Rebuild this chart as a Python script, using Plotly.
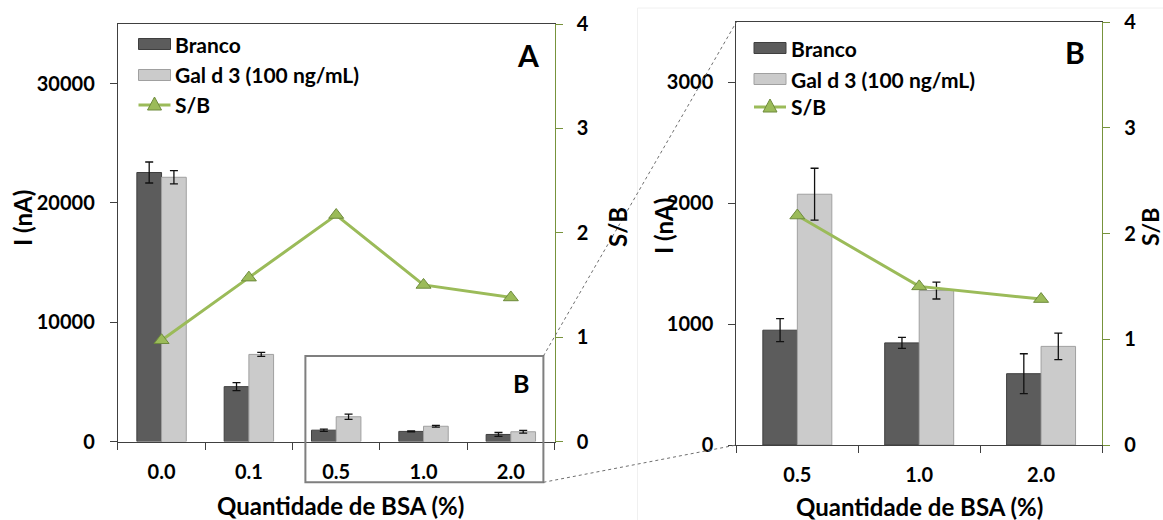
import plotly.graph_objects as go

# BSA blocking study: blank vs. Gal d 3 current, and signal-to-blank ratio
categories = ["0.0", "0.1", "0.5", "1.0", "2.0"]
branco = [22550, 4600, 950, 845, 590]
branco_err = [880, 330, 95, 45, 165]
gal_d3 = [22150, 7300, 2075, 1278, 816]
gal_d3_err = [550, 170, 215, 70, 110]
s_b = [0.97, 1.57, 2.17, 1.50, 1.38]

# the zoomed panel shows the last three concentrations
zoom_idx = [2, 3, 4]

W, H = 1163, 520
FONT = "Lato"
DARK = "#5C5C5C"
DARK_EDGE = "#3F3F3F"
LIGHT = "#CBCBCB"
LIGHT_EDGE = "#A0A0A0"
GREEN = "#9BBB59"
GREEN_EDGE = "#6E8B3D"
AXIS_GREEN = "#77933C"
AXIS = "#404040"


def px(x):
    return x / W


def py(y):
    return 1 - y / H


def bar_traces(cats, b, be, g, ge, xa, ya):
    return [
        go.Bar(x=cats, y=b, name="Branco", xaxis=xa, yaxis=ya,
               marker=dict(color=DARK, line=dict(color=DARK_EDGE, width=1)),
               error_y=dict(type="data", array=be, color="#111111",
                            thickness=1.3, width=4),
               showlegend=False),
        go.Bar(x=cats, y=g, name="Gal d 3 (100 ng/mL)", xaxis=xa, yaxis=ya,
               marker=dict(color=LIGHT, line=dict(color=LIGHT_EDGE, width=1)),
               error_y=dict(type="data", array=ge, color="#111111",
                            thickness=1.3, width=4),
               showlegend=False),
    ]


def ratio_trace(cats, vals, xa, ya):
    return go.Scatter(x=cats, y=vals, name="S/B", xaxis=xa, yaxis=ya,
                      mode="lines+markers",
                      line=dict(color=GREEN, width=3),
                      marker=dict(symbol="triangle-up", size=13, color=GREEN,
                                  line=dict(color=GREEN_EDGE, width=1)),
                      showlegend=False)


zc = [categories[i] for i in zoom_idx]
traces = []
traces += bar_traces(categories, branco, branco_err, gal_d3, gal_d3_err, "x", "y")
traces.append(ratio_trace(categories, s_b, "x", "y2"))
traces += bar_traces(zc, [branco[i] for i in zoom_idx], [branco_err[i] for i in zoom_idx],
                     [gal_d3[i] for i in zoom_idx], [gal_d3_err[i] for i in zoom_idx],
                     "x2", "y3")
traces.append(ratio_trace(zc, [s_b[i] for i in zoom_idx], "x2", "y4"))

fig = go.Figure(traces)

tick_font = dict(family=FONT, size=20, color="black", weight="bold")

xcommon = dict(type="category", showline=True, linecolor=AXIS, linewidth=1.3,
               mirror=True, ticks="outside", tickson="boundaries", ticklen=7,
               tickcolor=AXIS, showgrid=False, zeroline=False, automargin=False,
               tickfont=tick_font, ticklabelstandoff=12, fixedrange=True)
yleft = dict(showline=True, linecolor=AXIS, linewidth=1.3, ticks="outside",
             ticklen=7, tickcolor=AXIS, showgrid=False, zeroline=False,
             automargin=False, tickformat="d",
             tickfont=tick_font, ticklabelstandoff=11)
yright = dict(showline=True, linecolor=AXIS_GREEN, linewidth=1.3, ticks="outside",
              ticklen=7, tickcolor=AXIS_GREEN, showgrid=False, zeroline=False,
              automargin=False, tickformat="d",
              tickfont=tick_font, ticklabelstandoff=10, range=[0, 4], dtick=1,
              side="right")

fig.update_layout(
    width=W, height=H,
    margin=dict(l=0, r=0, t=0, b=0),
    paper_bgcolor="white", plot_bgcolor="white",
    font=dict(family=FONT, color="black", weight="bold"),
    barmode="group", bargap=0.434, bargroupgap=0,
    xaxis=dict(xcommon, domain=[px(117.9), px(554.5)], anchor="y"),
    yaxis=dict(yleft, domain=[py(441.5), py(24)], range=[0, 35000], dtick=10000,
               anchor="x"),
    yaxis2=dict(yright, overlaying="y", anchor="x"),
    xaxis2=dict(xcommon, domain=[px(736.4), px(1102)], anchor="y3"),
    yaxis3=dict(yleft, domain=[py(445), py(22)], range=[0, 3500], dtick=1000,
                anchor="x2"),
    yaxis4=dict(yright, overlaying="y3", anchor="x2"),
)

shapes = []
annotations = []


def text(x, y, s, size, angle=0, xanchor="center"):
    annotations.append(dict(x=px(x), y=py(y), xref="paper", yref="paper",
                            text=s, showarrow=False, textangle=angle,
                            xanchor=xanchor, yanchor="middle", borderpad=0,
                            font=dict(family=FONT, size=size, color="black",
                                      weight="bold")))


# axis titles
text(340, 505, "Quantidade de BSA (%)", 24)
text(920, 506, "Quantidade de BSA (%)", 24)
text(22, 218, "I (nA)", 24, angle=-90)
text(663, 226, "I (nA)", 24, angle=-90)
text(617, 227, "S/B", 24, angle=-90)
text(1150, 227, "S/B", 23, angle=-90)

# panel letters
text(528, 55, "A", 30)
text(1075, 52, "B", 30)
text(521, 383, "B", 25)


def legend(x0, rows):
    x1 = x0 + 32
    y_br, y_gal, y_sb = rows
    shapes.append(dict(type="rect", xref="paper", yref="paper",
                       x0=px(x0), x1=px(x1), y0=py(y_br + 5.5), y1=py(y_br - 5.5),
                       fillcolor=DARK, line=dict(color=DARK_EDGE, width=1)))
    shapes.append(dict(type="rect", xref="paper", yref="paper",
                       x0=px(x0), x1=px(x1), y0=py(y_gal + 5.5), y1=py(y_gal - 5.5),
                       fillcolor=LIGHT, line=dict(color=LIGHT_EDGE, width=1)))
    shapes.append(dict(type="line", xref="paper", yref="paper",
                       x0=px(x0), x1=px(x1), y0=py(y_sb), y1=py(y_sb),
                       line=dict(color=GREEN, width=3)))
    cx = (x0 + x1) / 2
    path = "M {} {} L {} {} L {} {} Z".format(
        px(cx - 7), py(y_sb + 5), px(cx + 7), py(y_sb + 5), px(cx), py(y_sb - 8))
    shapes.append(dict(type="path", xref="paper", yref="paper", path=path,
                       fillcolor=GREEN, line=dict(color=GREEN_EDGE, width=1)))
    for y, s in zip(rows, ["Branco", "Gal d 3 (100 ng/mL)", "S/B"]):
        text(x1 + 3.5, y, s, 21, xanchor="left")


legend(138.5, (44, 75, 105))
legend(754, (48, 79, 107))

# inset frame marking the zoomed region, with connectors to panel B
shapes.append(dict(type="rect", xref="paper", yref="paper",
                   x0=px(305.4), x1=px(543.4), y0=py(482.3), y1=py(356),
                   line=dict(color="#7F7F7F", width=2)))
shapes.append(dict(type="line", xref="paper", yref="paper",
                   x0=px(543.4), y0=py(356), x1=px(736.4), y1=py(22),
                   line=dict(color="#6F6F6F", width=1, dash="dot")))
shapes.append(dict(type="line", xref="paper", yref="paper",
                   x0=px(543.4), y0=py(482.3), x1=px(736.4), y1=py(445),
                   line=dict(color="#6F6F6F", width=1, dash="dot")))

# faint frame of panel B
shapes.append(dict(type="rect", xref="paper", yref="paper",
                   x0=px(637.5), x1=px(1170), y0=py(530), y1=py(8),
                   line=dict(color="#F0F0F0", width=1), layer="below"))

fig.update_layout(shapes=shapes, annotations=annotations)
fig.write_html("out.html")
